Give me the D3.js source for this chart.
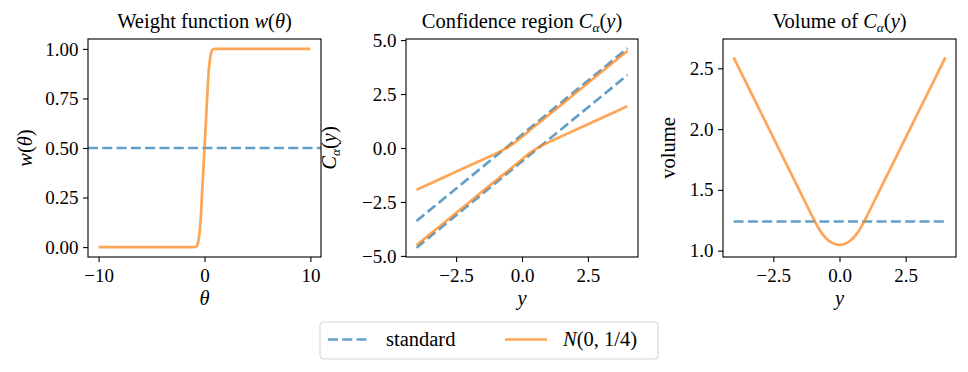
<!DOCTYPE html>
<html>
<head>
<meta charset="utf-8">
<script src="https://cdn.jsdelivr.net/npm/d3@7"></script>
<style>
body { margin: 0; background: #fff; }
svg text { font-family: "Liberation Serif", "Times New Roman", serif; fill: #000; }
</style>
</head>
<body>
<div id="chart"></div>
<script>
// panel 1: weight function
var THETA  = [-10, -1, -0.8, -0.7, -0.6, -0.5, -0.4, -0.3, -0.2, -0.1, 0, 0.1, 0.2, 0.3, 0.4, 0.5, 0.6, 0.7, 0.8, 1, 10];
var WEIGHT = [0, 0, 0.002, 0.008, 0.025, 0.06, 0.11, 0.2, 0.3, 0.4, 0.5, 0.6, 0.7, 0.8, 0.89, 0.94, 0.975, 0.992, 0.998, 1, 1];
var W_STANDARD = 0.5;

// panel 2: confidence region bounds
var Y_REGION = [-4, -3, -2, -1.5, -1, -0.75, -0.5, -0.25, 0, 0.25, 0.5, 0.75, 1, 1.5, 2, 3, 4];
var UPPER = [-1.94, -1.38, -0.82, -0.54, -0.26, -0.11, 0.06, 0.27, 0.52, 0.78, 1.03, 1.27, 1.52, 2.01, 2.51, 3.51, 4.5];
var LOWER = [-4.5, -3.51, -2.51, -2.01, -1.52, -1.27, -1.03, -0.78, -0.52, -0.27, -0.06, 0.11, 0.26, 0.54, 0.82, 1.38, 1.94];
var Y_STD = [-4, 4];
var STD_UPPER = [-3.38, 4.62];
var STD_LOWER = [-4.62, 3.38];

// panel 3: volume
var Y_VOL = [-4, -3.5, -3, -2.5, -2, -1.5, -1.25, -1, -0.75, -0.5, -0.25, 0, 0.25, 0.5, 0.75, 1, 1.25, 1.5, 2, 2.5, 3, 3.5, 4];
var VOLUME = [2.59, 2.37, 2.15, 1.93, 1.71, 1.49, 1.38, 1.27, 1.17, 1.1, 1.06, 1.047, 1.06, 1.1, 1.17, 1.27, 1.38, 1.49, 1.71, 1.93, 2.15, 2.37, 2.59];
var VOL_STD = [1.24, 1.24];

// ticks
var X_TICKS_W = [-10, 0, 10];
var Y_TICKS_W = [0, 0.25, 0.5, 0.75, 1];
var X_TICKS_Y = [-2.5, 0, 2.5];
var Y_TICKS_C = [-5, -2.5, 0, 2.5, 5];
var Y_TICKS_V = [1, 1.5, 2, 2.5];

var BLUE = "#1f77b4", ORANGE = "#ff7f0e", ALPHA = 0.7, LW = 2.7, DASH = "10,4.3";
var FS = 19, FS_LABEL = 20.5;

var svg = d3.select("#chart").append("svg")
    .attr("width", 968).attr("height", 372)
    .style("background", "#fff");

// writes text made of plain / italic / subscript pieces
function mathText(t, parts) {
    parts.forEach(function(p) {
        var s = t.append("tspan").text(p[0]);
        if (p[1] == "it" || p[1] == "sub") s.style("font-style", "italic");
        if (p[1] == "sub") s.attr("dy", "0.3em").attr("font-size", "65%");
        if (p[2] == "up") s.attr("dy", "-0.195em");
    });
    return t;
}

function panel(box, xdom, ydom, xticks, yticks, xfmt, yfmt, id) {
    var g = svg.append("g").attr("transform", "translate(" + box.left + "," + box.top + ")");
    var w = box.right - box.left, h = box.bottom - box.top;
    var x = d3.scaleLinear().domain(xdom).range([0, w]);
    var y = d3.scaleLinear().domain(ydom).range([h, 0]);

    svg.append("clipPath").attr("id", id).append("rect").attr("width", w).attr("height", h);

    var ax = g.append("g").attr("transform", "translate(0," + h + ")")
        .call(d3.axisBottom(x).tickValues(xticks).tickFormat(d3.format(xfmt))
            .tickSize(5).tickPadding(6.5).tickSizeOuter(0));
    var ay = g.append("g")
        .call(d3.axisLeft(y).tickValues(yticks).tickFormat(d3.format(yfmt))
            .tickSize(5).tickPadding(4.5).tickSizeOuter(0));
    [ax, ay].forEach(function(a) {
        a.attr("font-family", null).attr("font-size", FS);
        a.select(".domain").remove();
        a.selectAll("line").attr("stroke", "#000").attr("stroke-width", 1.1);
    });

    var plot = g.append("g").attr("clip-path", "url(#" + id + ")");
    g.append("rect").attr("width", w).attr("height", h)
        .attr("fill", "none").attr("stroke", "#000").attr("stroke-width", 1.1);
    return {g: g, plot: plot, x: x, y: y, w: w, h: h};
}

function drawLine(p, xs, ys, color, dashed, curve) {
    var line = d3.line()
        .x(function(d, i) { return p.x(xs[i]); })
        .y(function(d, i) { return p.y(ys[i]); })
        .curve(curve || d3.curveLinear);
    p.plot.append("path").datum(xs)
        .attr("d", line)
        .attr("fill", "none")
        .attr("stroke", color)
        .attr("stroke-opacity", ALPHA)
        .attr("stroke-width", LW)
        .attr("stroke-dasharray", dashed ? DASH : null);
}

function title(p, parts) {
    mathText(p.g.append("text").attr("x", p.w / 2).attr("y", -11)
        .attr("text-anchor", "middle").attr("font-size", FS_LABEL), parts);
}
function xlabel(p, parts) {
    mathText(p.g.append("text").attr("x", p.w / 2).attr("y", p.h + 48)
        .attr("text-anchor", "middle").attr("font-size", FS_LABEL), parts);
}
function ylabel(p, cx, parts) {
    mathText(p.g.append("text")
        .attr("transform", "translate(" + cx + "," + p.h / 2 + ") rotate(-90)")
        .attr("dy", "0.3em").attr("text-anchor", "middle").attr("font-size", FS_LABEL), parts);
}

var C_ALPHA = [["C", "it"], ["α", "sub"], ["(", "", "up"], ["y", "it"], [")", ""]];

// panel 1
var p1 = panel({left: 88, right: 321, top: 39, bottom: 257}, [-11, 11], [-0.05, 1.05],
    X_TICKS_W, Y_TICKS_W, "d", ".2f", "clip1");
drawLine(p1, [-11, 11], [W_STANDARD, W_STANDARD], BLUE, true);
drawLine(p1, THETA, WEIGHT, ORANGE, false, d3.curveMonotoneX);
title(p1, [["Weight function "], ["w", "it"], ["("], ["θ", "it"], [")"]]);
xlabel(p1, [["θ", "it"]]);
ylabel(p1, 26 - 88, [["w", "it"], ["("], ["θ", "it"], [")"]]);

// panel 2
var p2 = panel({left: 406, right: 638, top: 39, bottom: 257}, [-4.4, 4.4], [-5.05, 5.05],
    X_TICKS_Y, Y_TICKS_C, ".1f", ".1f", "clip2");
drawLine(p2, Y_STD, STD_UPPER, BLUE, true);
drawLine(p2, Y_STD, STD_LOWER, BLUE, true);
drawLine(p2, Y_REGION, UPPER, ORANGE, false, d3.curveMonotoneX);
drawLine(p2, Y_REGION, LOWER, ORANGE, false, d3.curveMonotoneX);
title(p2, [["Confidence region "]].concat(C_ALPHA));
xlabel(p2, [["y", "it"]]);
ylabel(p2, 330 - 406, C_ALPHA);

// panel 3
var p3 = panel({left: 723, right: 956, top: 39, bottom: 257}, [-4.4, 4.4], [0.948, 2.741],
    X_TICKS_Y, Y_TICKS_V, ".1f", ".1f", "clip3");
drawLine(p3, Y_STD, VOL_STD, BLUE, true);
drawLine(p3, Y_VOL, VOLUME, ORANGE, false, d3.curveMonotoneX);
title(p3, [["Volume of "]].concat(C_ALPHA));
xlabel(p3, [["y", "it"]]);
ylabel(p3, 669 - 723, [["volume"]]);

// legend
var lg = svg.append("g").attr("transform", "translate(320,322)");
lg.append("rect").attr("width", 338).attr("height", 37).attr("rx", 3.5)
    .attr("fill", "#fff").attr("fill-opacity", 0.8)
    .attr("stroke", "#d6d6d6").attr("stroke-width", 1.1);
var LEGEND = [
    {color: BLUE, dashed: true, x: 8, parts: [["standard"]]},
    {color: ORANGE, dashed: false, x: 185, parts: [["N", "it"], ["(0, 1/4)"]]}
];
LEGEND.forEach(function(d) {
    lg.append("line").attr("x1", d.x).attr("x2", d.x + 42).attr("y1", 17.5).attr("y2", 17.5)
        .attr("stroke", d.color).attr("stroke-opacity", ALPHA).attr("stroke-width", LW)
        .attr("stroke-dasharray", d.dashed ? DASH : null);
    mathText(lg.append("text").attr("x", d.x + 58).attr("y", 24).attr("font-size", FS_LABEL), d.parts);
});
</script>
</body>
</html>
